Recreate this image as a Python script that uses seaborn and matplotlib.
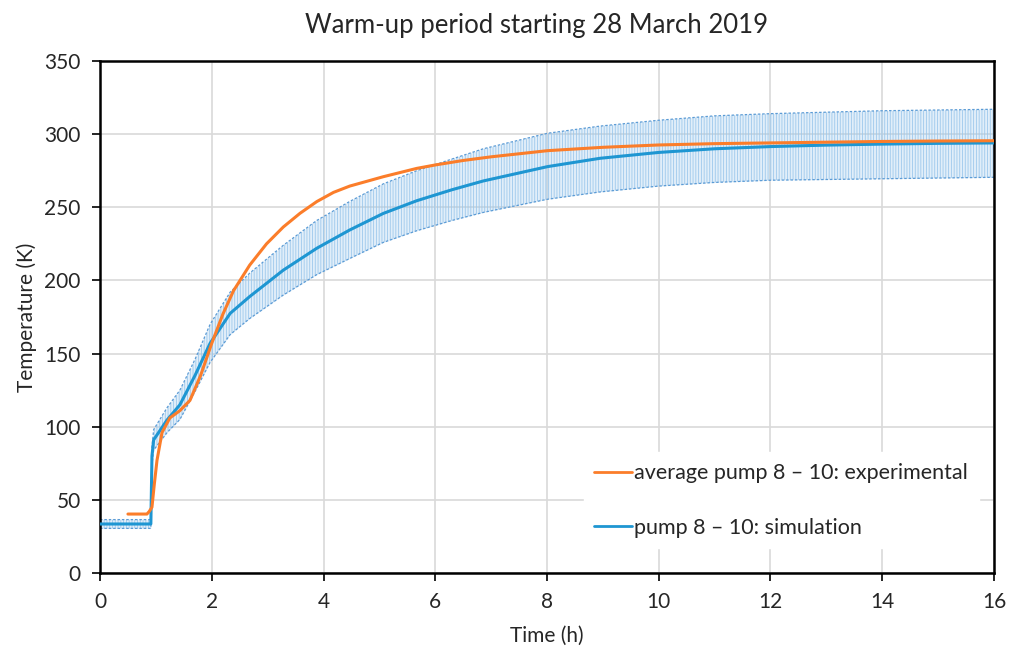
import numpy as np
import pandas as pd
import matplotlib
matplotlib.use("Agg")
import matplotlib.pyplot as plt
import seaborn as sns

# Simulated temperature of pumps 8-10 (K) with its spread
sim_time = [0, 0.5, 0.91, 0.93, 0.96, 1.2, 1.43, 1.7, 1.97, 2.33, 2.68, 3.28, 3.88,
            4.47, 5.07, 5.67, 6.3, 6.86, 8.01, 8.95, 10, 11, 12, 13, 14, 15, 16]
sim_temp = [33.5, 33.5, 33.5, 80, 91, 104.6, 115, 135, 157, 177.5, 189, 207, 222,
            234.5, 245.8, 254.5, 262, 268, 277.8, 283.5, 287.5, 290, 291.5, 292.5,
            293.2, 293.7, 294]
sim_upper = [36.5, 36.5, 36.5, 86, 98, 113, 125, 146, 170, 192, 205, 224, 241,
             254, 266, 275, 283, 290, 300.6, 305.5, 309.5, 312.5, 314, 315, 316,
             316.5, 317]
sim_lower = [30.5, 30.5, 30.5, 74, 84, 96, 105, 124, 144, 163, 174, 190, 204,
             215, 226, 234, 241, 246.5, 255.5, 260.5, 264.5, 267, 268.5, 269, 269.5,
             270, 270.5]

# Measured average temperature of pumps 8-10 (K)
exp_time = [0.5, 0.84, 0.88, 0.93, 0.97, 1.02, 1.11, 1.25, 1.43, 1.61, 1.8, 2.0,
            2.2, 2.39, 2.68, 2.98, 3.28, 3.58, 3.88, 4.18, 4.47, 5.07, 5.67, 6.01,
            6.5, 7.0, 8.01, 9.0, 10, 11, 12, 13, 14, 15, 16]
exp_temp = [40.3, 40.3, 42, 45, 60, 77, 96, 106, 111, 118, 135, 157,
            177, 193, 210.5, 225, 236.5, 245.9, 253.9, 260.2, 264.5, 270.9, 276.6,
            279, 282, 284.5, 288.7, 291, 292.6, 293.5, 294, 294.5, 295, 295.3, 295.5]

x_ticks = [0, 2, 4, 6, 8, 10, 12, 14, 16]
y_ticks = [0, 50, 100, 150, 200, 250, 300, 350]

ORANGE = "#fb7d2a"
BLUE = "#1e96d2"
BAND = "#9dc8ec"

sns.set_style("white")
plt.rcParams["font.family"] = ["Lato", "DejaVu Sans"]
plt.rcParams["hatch.linewidth"] = 0.6

sim_df = pd.DataFrame({"time": sim_time, "temp": sim_temp})
exp_df = pd.DataFrame({"time": exp_time, "temp": exp_temp})

fig = plt.figure(figsize=(10.19, 6.53), dpi=100)
ax = fig.add_axes([100 / 1019, 80 / 653, 894 / 1019, 512 / 653])

# spread of the simulation, drawn as a light hatched band with dotted edges
ax.fill_between(sim_time, sim_lower, sim_upper, facecolor=BAND, alpha=0.3,
                linewidth=0, zorder=1)
ax.fill_between(sim_time, sim_lower, sim_upper, facecolor="none",
                edgecolor=BAND, hatch="||||||", linewidth=0, zorder=1)
ax.plot(sim_time, sim_upper, color="#5b9bd5", lw=0.9, ls=(0, (2, 1.5)), zorder=2)
ax.plot(sim_time, sim_lower, color="#5b9bd5", lw=0.9, ls=(0, (2, 1.5)), zorder=2)

sns.lineplot(data=exp_df, x="time", y="temp", ax=ax, color=ORANGE, lw=2.2,
             label="average pump 8 \u2013 10: experimental", zorder=4, estimator=None)
sns.lineplot(data=sim_df, x="time", y="temp", ax=ax, color=BLUE, lw=2.2,
             label="pump 8 \u2013 10: simulation", zorder=3, estimator=None)

ax.set_xlim(0, 16)
ax.set_ylim(0, 350)
ax.set_xticks(x_ticks)
ax.set_yticks(y_ticks)
ax.grid(True, color="#d9d9d9", lw=1.2)
ax.set_axisbelow(True)

for side in ("left", "bottom", "right", "top"):
    ax.spines[side].set_color("black")
    ax.spines[side].set_linewidth(1.8)

ax.tick_params(axis="both", direction="out", length=6, width=1.2, color="black",
               labelsize=15, pad=8, bottom=True, left=True)

ax.set_xlabel("Time (h)", fontsize=15, labelpad=10)
ax.set_ylabel("Temperature (K)", fontsize=15, labelpad=5)
fig.suptitle("Warm-up period starting 28 March 2019", fontsize=18.5,
             x=0.527, y=0.98)

handles, labels = ax.get_legend_handles_labels()
leg = ax.legend(handles, labels, loc="lower right", bbox_to_anchor=(0.995, 0.027),
                frameon=True, fontsize=15.5, handlelength=1.75, handletextpad=0.1,
                labelspacing=1.6, borderpad=0.5, fancybox=False)
leg.get_frame().set_facecolor("white")
leg.get_frame().set_edgecolor("white")
leg.get_frame().set_alpha(1)
for line in leg.get_lines():
    line.set_linewidth(2)

fig.savefig("out.png", dpi=100)
